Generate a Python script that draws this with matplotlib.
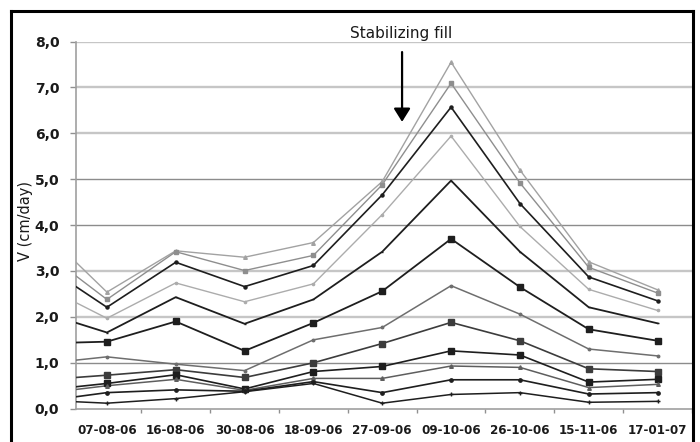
import numpy as np
import matplotlib.pyplot as plt
from matplotlib.lines import Line2D

plt.rcParams['font.family'] = ['DejaVu Sans']

# reading dates (the first value of every series belongs to an earlier
# reading that lies left of the y axis and is cut off there)
dates = ['07-08-06', '16-08-06', '30-08-06', '18-09-06', '27-09-06',
         '09-10-06', '26-10-06', '15-11-06', '17-01-07']

v01 = [3.99, 2.54, 3.44, 3.30, 3.62, 4.95, 7.55, 5.20, 3.20, 2.59]
v02 = [3.52, 2.38, 3.42, 3.01, 3.34, 4.88, 7.09, 4.92, 3.08, 2.52]
v03 = [3.21, 2.21, 3.19, 2.66, 3.12, 4.66, 6.57, 4.47, 2.87, 2.35]
v04 = [2.73, 1.97, 2.74, 2.33, 2.72, 4.23, 5.94, 3.97, 2.60, 2.14]
v05 = [2.13, 1.66, 2.43, 1.85, 2.38, 3.42, 4.97, 3.42, 2.21, 1.86]
v06 = [1.42, 1.46, 1.90, 1.26, 1.87, 2.56, 3.70, 2.65, 1.73, 1.48]
v07 = [0.97, 1.13, 0.97, 0.83, 1.50, 1.77, 2.68, 2.06, 1.30, 1.15]
v08 = [0.62, 0.73, 0.85, 0.68, 1.00, 1.42, 1.88, 1.48, 0.87, 0.81]
v09 = [0.39, 0.55, 0.74, 0.43, 0.81, 0.92, 1.26, 1.17, 0.58, 0.64]
v10 = [0.32, 0.50, 0.64, 0.40, 0.66, 0.66, 0.93, 0.90, 0.46, 0.53]
v11 = [0.15, 0.35, 0.41, 0.38, 0.59, 0.35, 0.63, 0.63, 0.32, 0.35]
v12 = [0.19, 0.12, 0.22, 0.37, 0.55, 0.12, 0.31, 0.35, 0.14, 0.16]

series = [v01, v02, v03, v04, v05, v06, v07, v08, v09, v10, v11, v12]

# colour, marker, marker size, line width
styles = [
    ('#a2a2a2', '^', 2.6, 1.0),
    ('#8e8e8e', 's', 2.6, 1.0),
    ('#1e1e1e', 'o', 2.2, 1.2),
    ('#acacac', 'o', 1.6, 1.0),
    ('#1e1e1e', '_', 2.0, 1.3),
    ('#1e1e1e', 's', 4.4, 1.3),
    ('#6e6e6e', 'o', 1.8, 1.1),
    ('#3c3c3c', 's', 4.2, 1.2),
    ('#1e1e1e', 's', 4.2, 1.2),
    ('#5e5e5e', '^', 2.6, 1.1),
    ('#1e1e1e', 'o', 2.4, 1.2),
    ('#1e1e1e', '+', 3.0, 1.1),
]

fig = plt.figure(figsize=(7.0, 4.42), dpi=100)
ax = fig.add_axes([76 / 700, 1 - 408.7 / 442, 616 / 700, 367.2 / 442])

x = np.arange(-1, len(dates))

# horizontal grid, drawn by hand so that some lines can be darker
for g in range(1, 9):
    if g in (1, 4, 5):
        ax.axhline(g, color='#8c8c8c', lw=1.0, zorder=0)
    else:
        ax.axhline(g, color='#c6c6c6', lw=1.7, zorder=0)

for vals, (col, mk, ms, lw) in zip(series, styles):
    ax.plot(x, vals, color=col, lw=lw, zorder=3)
    ax.plot(x[1:], vals[1:], ls='none', marker=mk, ms=ms, color=col,
            mec=col, mew=1.0, zorder=4)

ax.set_xlim(-0.449, 8.466)
ax.set_ylim(0, 8)

ax.set_yticks(np.arange(0, 8.1, 1.0))
ax.set_yticklabels([f'{t:.1f}'.replace('.', ',') for t in np.arange(0, 8.1, 1.0)],
                   fontsize=10, fontweight='bold', color='#1a1a1a')
ax.set_xticks(np.arange(len(dates)))
ax.set_xticklabels(dates, fontsize=8.6, fontweight='bold', color='#1a1a1a')
ax.set_xticks(np.arange(len(dates)) + 0.5, minor=True)
ax.tick_params(axis='x', which='major', length=0, pad=11)
ax.tick_params(axis='x', which='minor', length=3, color='#909090', width=1)
ax.tick_params(axis='y', length=4, color='#909090', width=1, pad=8)

for side in ('top', 'right'):
    ax.spines[side].set_visible(False)
for side in ('left', 'bottom'):
    ax.spines[side].set_color('#a0a0a0')
    ax.spines[side].set_linewidth(1.2)

ax.set_ylabel('V (cm/day)', fontsize=10.5, color='#1a1a1a')
ax.yaxis.set_label_coords(-0.069, 0.51)

# annotation for the fill
ax.annotate('', xy=(4.288, 6.25), xytext=(4.288, 7.77),
            arrowprops=dict(arrowstyle='-|>,head_width=0.5,head_length=0.8',
                            color='black', lw=1.6, mutation_scale=10,
                            shrinkA=0, shrinkB=0), zorder=6)
ax.text(4.27, 8.18, 'Stabilizing fill', ha='center', va='center',
        fontsize=11, color='#1a1a1a', clip_on=False)

# black frame around the picture (bottom edge is cropped)
for xs, ys in [((11 / 700, 11 / 700), (0, 1 - 11 / 442)),
               ((11 / 700, 692.5 / 700), (1 - 11 / 442, 1 - 11 / 442)),
               ((692.5 / 700, 692.5 / 700), (1 - 11 / 442, 0))]:
    fig.add_artist(Line2D(xs, ys, color='black', lw=2.2))

fig.savefig('out.png', dpi=100, facecolor='white')
